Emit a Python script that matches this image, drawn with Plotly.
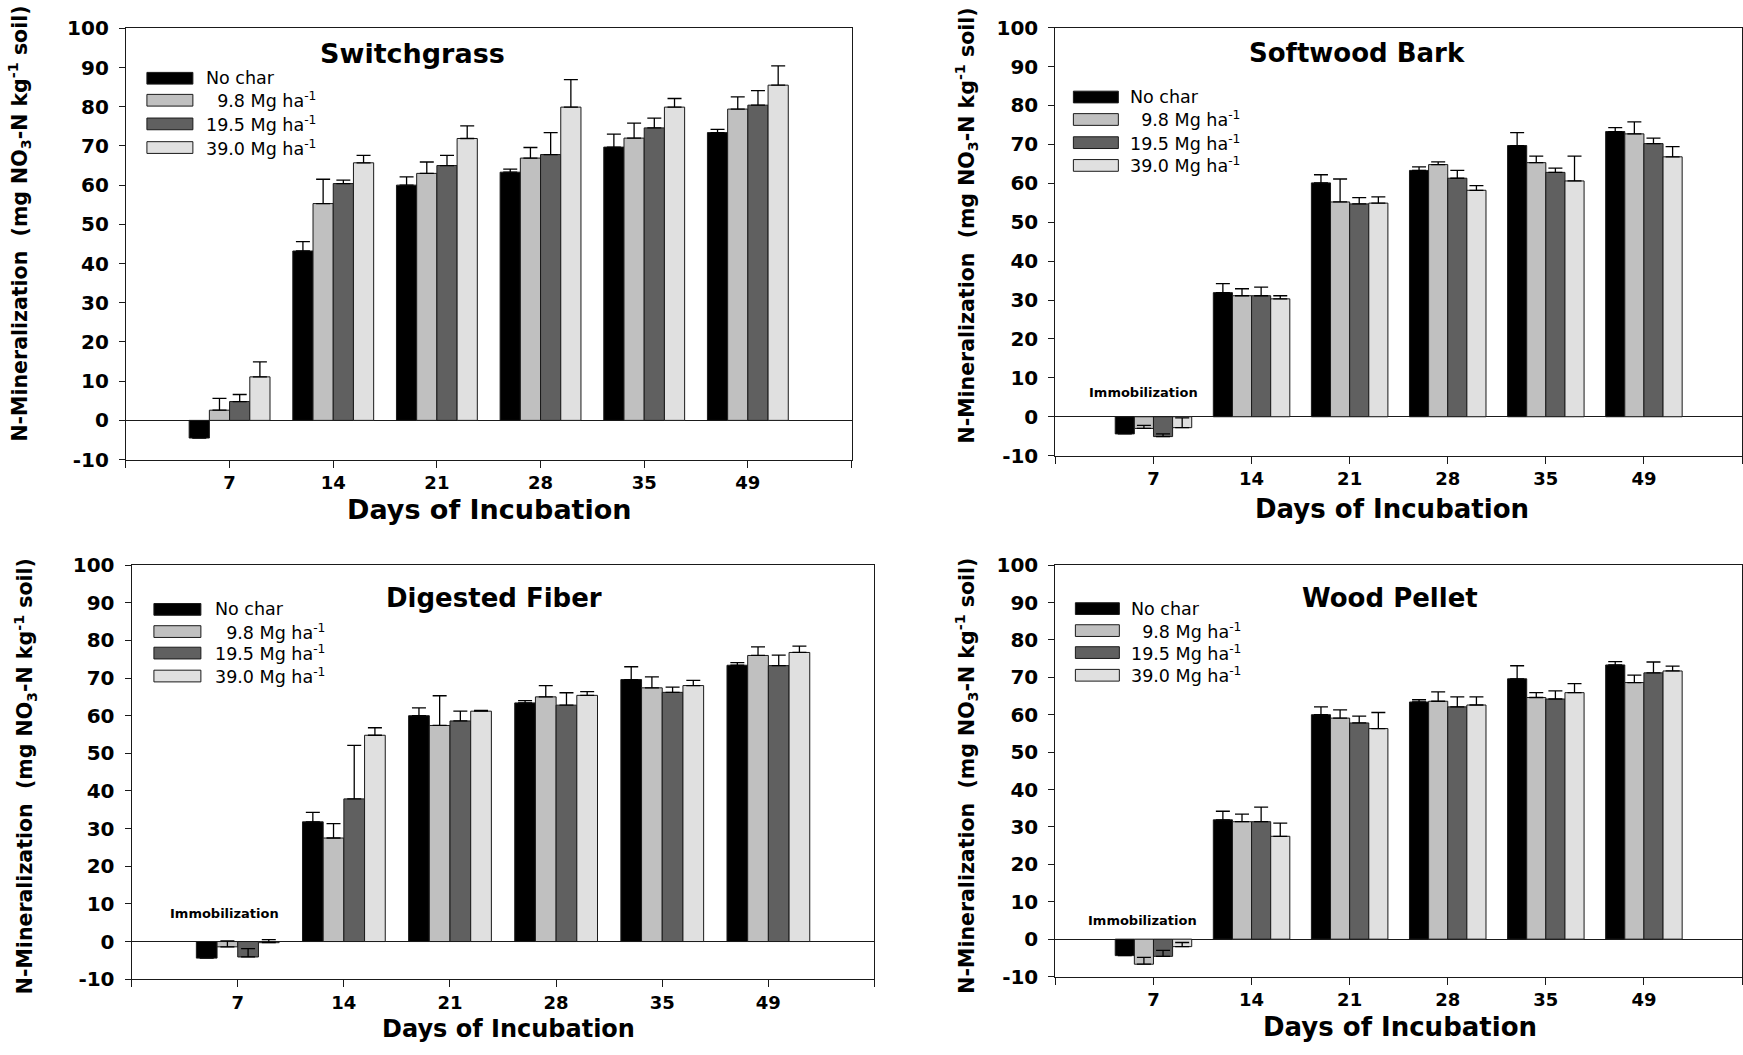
import plotly.graph_objects as go

W, H = 1743, 1055

days = ["7", "14", "21", "28", "35", "49"]
series_names = ["No char", "\u20079.8 Mg ha<sup>-1</sup>", "19.5 Mg ha<sup>-1</sup>", "39.0 Mg ha<sup>-1</sup>"]
series_colors = ["#000000", "#c0c0c0", "#606060", "#e0e0e0"]
panel_titles = ["Switchgrass", "Softwood Bark", "Digested Fiber", "Wood Pellet"]

# means (rows: No char, 9.8, 19.5, 39.0 Mg/ha) and upward error (SE)
switchgrass_mean = [
    [-4.5, 43.2, 60.0, 63.3, 69.7, 73.4],
    [2.6, 55.3, 63.0, 66.9, 72.0, 79.4],
    [4.8, 60.4, 65.0, 67.8, 74.6, 80.4],
    [11.1, 65.7, 71.9, 79.9, 79.9, 85.5],
]
switchgrass_err = [
    [0.0, 2.4, 2.1, 0.8, 3.3, 0.8],
    [3.0, 6.2, 2.9, 2.7, 3.8, 3.1],
    [1.8, 0.9, 2.6, 5.6, 2.5, 3.7],
    [3.8, 1.9, 3.2, 7.0, 2.2, 4.9],
]
softwood_mean = [
    [-4.4, 31.9, 60.1, 63.3, 69.7, 73.3],
    [-3.0, 31.1, 55.2, 64.8, 65.3, 72.7],
    [-5.1, 31.1, 54.7, 61.3, 62.8, 70.2],
    [-2.8, 30.3, 54.9, 58.2, 60.6, 66.8],
]
softwood_err = [
    [0.0, 2.3, 2.1, 0.9, 3.3, 1.0],
    [0.8, 1.8, 5.9, 0.7, 1.7, 3.1],
    [0.7, 2.2, 1.6, 2.0, 1.1, 1.4],
    [2.5, 0.8, 1.6, 1.2, 6.4, 2.6],
]
digested_mean = [
    [-4.4, 31.8, 60.0, 63.4, 69.6, 73.4],
    [-1.4, 27.5, 57.4, 65.0, 67.4, 76.0],
    [-4.1, 37.9, 58.6, 62.8, 66.2, 73.3],
    [-0.3, 54.8, 61.2, 65.4, 68.0, 76.8],
]
digested_err = [
    [0.0, 2.5, 2.1, 0.6, 3.4, 0.7],
    [1.6, 3.8, 7.9, 3.0, 2.9, 2.3],
    [2.2, 14.2, 2.6, 3.3, 1.4, 2.8],
    [0.8, 2.0, 0.2, 1.0, 1.4, 1.7],
]
pellet_mean = [
    [-4.4, 31.9, 60.0, 63.4, 69.6, 73.3],
    [-6.7, 31.4, 59.1, 63.6, 64.6, 68.6],
    [-4.6, 31.4, 57.8, 62.1, 64.2, 71.2],
    [-2.0, 27.5, 56.3, 62.6, 65.9, 71.7],
]
pellet_err = [
    [0.0, 2.3, 2.1, 0.6, 3.5, 0.9],
    [1.8, 2.0, 2.2, 2.5, 1.3, 2.0],
    [1.6, 3.9, 1.8, 2.7, 2.2, 2.9],
    [1.1, 3.5, 4.3, 2.2, 2.4, 1.3],
]
y_ticks = [-10, 0, 10, 20, 30, 40, 50, 60, 70, 80, 90, 100]
y_ticktext = ["-10", "0", "10", "20", "30", "40", "50", "60", "70", "80", "90", "100"]
immobilization_panels = [1, 2, 3]

means = [switchgrass_mean, softwood_mean, digested_mean, pellet_mean]
errs = [switchgrass_err, softwood_err, digested_err, pellet_err]


def px(x):
    return x / W


def py(y):
    return 1 - y / H


# layout geometry (pixels): plot box left, right, top, bottom
boxes = [
    (126, 852, 16.7, 458),
    (1056, 1743, 16, 454),
    (131.7, 875, 566, 989.7),
    (1056, 1743, 566, 987),
]
title_pos = [(413, 42), (1358, 42), (494, 600), (1391, 600)]
title_size = [27, 26, 26, 26]
xtitle_pos = [(490, 509), (1393, 509), (509, 1041), (1401, 1039)]
xtitle_size = [27, 26, 24, 26]
ytitle_pos = [(20, 216.5), (967, 218), (25, 782), (967, 781)]
legend_geo = [  # swatch left, swatch right, row centers, text left
    (147, 193, [67.8, 90.3, 114.5, 138.7], 204),
    (1074, 1119, [87, 110, 133.7, 157], 1129),
    (154, 201, [611.3, 634, 656, 679.5], 213),
    (1076, 1120, [610.5, 633, 655.5, 678.7], 1130),
]
immob_pos = {1: (1144, 389.5), 2: (225, 922.5), 3: (1143, 929.7)}

BOLD = dict(family="DejaVu Sans", color="#000000", weight="bold")

fig = go.Figure()
xpos = list(range(len(days)))
layout = dict(
    width=W, height=H,
    margin=dict(l=0, r=0, t=0, b=0),
    paper_bgcolor="white", plot_bgcolor="white",
    barmode="group", bargap=0.22, bargroupgap=0.0,
    showlegend=False,
)
annotations = []
shapes = []

for p in range(4):
    sfx = "" if p == 0 else str(p + 1)
    xa, ya = "x" + sfx, "y" + sfx
    l, r, t, b = boxes[p]
    for s in range(4):
        fig.add_trace(go.Bar(
            x=xpos, y=means[p][s], name=series_names[s],
            xaxis=xa, yaxis=ya, offsetgroup=str(s),
            marker=dict(color=series_colors[s], line=dict(color="#1a1a1a", width=1)),
            error_y=dict(type="data", symmetric=False, array=errs[p][s],
                         arrayminus=[0] * len(days), color="#000000",
                         thickness=1.3, width=7),
            showlegend=False,
        ))
    layout["xaxis" + sfx] = dict(
        domain=[px(l), min(px(r), 1.0)], anchor=ya,
        range=[-1, len(days)],
        tickvals=xpos, ticktext=days,
        ticks="outside", ticklen=7, tickwidth=1.2, tickcolor="#1a1a1a",
        minor=dict(tickvals=[-1, len(days)], ticks="outside", ticklen=7,
                   tickwidth=1.2, tickcolor="#1a1a1a", showgrid=False),
        showline=True, linecolor="#1a1a1a", linewidth=1.2, mirror=True,
        showgrid=False, zeroline=False,
        tickfont=dict(size=18, **BOLD), ticklabelstandoff=0,
    )
    layout["yaxis" + sfx] = dict(
        domain=[py(b), py(t)], anchor=xa,
        range=[-10, 100], tickvals=y_ticks, ticktext=y_ticktext,
        ticks="outside", ticklen=6, tickwidth=1.2, tickcolor="#1a1a1a",
        showline=True, linecolor="#1a1a1a", linewidth=1.2, mirror=True,
        showgrid=False, zeroline=True, zerolinecolor="#1a1a1a", zerolinewidth=1.2,
        tickfont=dict(size=20, **BOLD), ticklabelstandoff=6,
    )
    # panel title
    annotations.append(dict(
        text=panel_titles[p], x=px(title_pos[p][0]), y=py(title_pos[p][1]),
        xref="paper", yref="paper", xanchor="center", yanchor="middle",
        showarrow=False, font=dict(size=title_size[p], **BOLD)))
    # x title
    annotations.append(dict(
        text="Days of Incubation", x=px(xtitle_pos[p][0]), y=py(xtitle_pos[p][1]),
        xref="paper", yref="paper", xanchor="center", yanchor="middle",
        showarrow=False, font=dict(size=xtitle_size[p], **BOLD)))
    # y title
    annotations.append(dict(
        text="N-Mineralization\u00a0\u00a0(mg NO<sub>3</sub>-N kg<sup>-1</sup> soil)",
        x=px(ytitle_pos[p][0]), y=py(ytitle_pos[p][1]), textangle=-90,
        xref="paper", yref="paper", xanchor="center", yanchor="middle",
        showarrow=False, font=dict(size=20.5, **BOLD)))
    # legend
    sl, sr, rows, tl = legend_geo[p]
    for s in range(4):
        shapes.append(dict(
            type="rect", xref="paper", yref="paper",
            x0=px(sl), x1=px(sr), y0=py(rows[s] + 6), y1=py(rows[s] - 6),
            fillcolor=series_colors[s], line=dict(color="#1a1a1a", width=1)))
        annotations.append(dict(
            text=series_names[s], x=px(tl), y=py(rows[s]),
            xref="paper", yref="paper", xanchor="left", yanchor="middle",
            showarrow=False, font=dict(family="DejaVu Sans", size=17.5, color="#000000")))
    if p in immob_pos:
        annotations.append(dict(
            text="Immobilization", x=px(immob_pos[p][0]), y=py(immob_pos[p][1]),
            xref="paper", yref="paper", xanchor="center", yanchor="middle",
            showarrow=False, font=dict(size=13, **BOLD)))

layout["annotations"] = annotations
layout["shapes"] = shapes
fig.update_layout(**layout)
fig.write_html("out.html")
